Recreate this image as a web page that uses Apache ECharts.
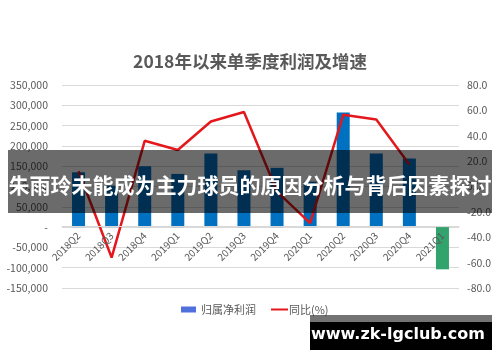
<!DOCTYPE html>
<html>
<head>
<meta charset="utf-8">
<script src="https://cdn.jsdelivr.net/npm/echarts@6/dist/echarts.min.js"></script>
<style>html,body{margin:0;padding:0;background:#fff;}#c{width:500px;height:362px;}</style>
</head>
<body>
<div id="c"></div>
<script>
var categories = ['2018Q2','2018Q3','2018Q4','2019Q1','2019Q2','2019Q3','2019Q4','2020Q1','2020Q2','2020Q3','2020Q4','2021Q1'];
var profit = [135000, 102000, 150000, 131000, 181000, 140000, 146000, 112000, 282000, 181000, 169000, -104000];
var yoy = [12.0, -56.0, 36.0, 28.8, 51.2, 58.7, -4.0, -28.8, 56.5, 52.8, 17.4, null];
var leftTicks = {min: -150000, max: 350000, interval: 50000};
var rightTicks = {min: -80, max: 80, interval: 20};
var titleText = '2018年以来单季度利润及增速';
var seriesNames = ['归属净利润', '同比(%)'];
var bannerText = '朱雨玲未能成为主力球员的原因分析与背后因素探讨';
var siteText = 'www.zk-lgclub.com';

var FONT = '"Noto Sans CJK SC", "Noto Sans", sans-serif';
var chart = echarts.init(document.getElementById('c'), null, {renderer: 'canvas'});
chart.setOption({
  backgroundColor: '#ffffff',
  textStyle: {fontFamily: FONT},
  title: {
    text: titleText, left: 'center', top: 48,
    textStyle: {fontFamily: FONT, fontSize: 17.5, fontWeight: 'bold', color: '#595959'}
  },
  legend: [{
    data: [{name: seriesNames[0], icon: 'rect'}],
    left: 176, top: 299, itemWidth: 15, itemHeight: 6, itemGap: 5,
    textStyle: {fontFamily: FONT, fontSize: 11, color: '#595959'}
  }, {
    data: [{name: seriesNames[1], icon: 'rect'}],
    left: 266, top: 299, itemWidth: 17, itemHeight: 2,
    textStyle: {fontFamily: FONT, fontSize: 11, color: '#595959', padding: [0, 0, 0, -4]}
  }],
  grid: {left: 62, right: 41, top: 85, bottom: 74, containLabel: false},
  xAxis: {
    type: 'category', data: categories, offset: -62, z: 5,
    axisLine: {show: true, onZero: false, lineStyle: {color: '#d9d9d9'}},
    axisTick: {show: false},
    axisLabel: {rotate: 45, margin: 8, fontSize: 10, color: '#595959', fontFamily: FONT, interval: 0}
  },
  yAxis: [{
    type: 'value', min: leftTicks.min, max: leftTicks.max, interval: leftTicks.interval,
    axisLine: {show: false}, axisTick: {show: false},
    splitLine: {show: true, lineStyle: {color: '#d9d9d9'}},
    axisLabel: {fontSize: 10.5, color: '#595959', fontFamily: FONT, margin: 14,
      formatter: function (v) { return v === 0 ? '-' : v.toLocaleString('en-US'); }}
  }, {
    type: 'value', min: rightTicks.min, max: rightTicks.max, interval: rightTicks.interval,
    alignTicks: false,
    axisLine: {show: false}, axisTick: {show: false}, splitLine: {show: false},
    axisLabel: {fontSize: 10.5, color: '#595959', fontFamily: FONT, margin: 8,
      formatter: function (v) { return v.toFixed(1); }}
  }],
  series: [{
    name: seriesNames[0], type: 'bar', data: profit, barWidth: 13, yAxisIndex: 0,
    itemStyle: {color: function (p) { return p.value < 0 ? '#33a36e' : '#0070c0'; }}
  }, {
    name: seriesNames[1], type: 'line', data: yoy, yAxisIndex: 1,
    symbol: 'none', showSymbol: false, connectNulls: false,
    lineStyle: {color: '#e3171c', width: 2.5}, itemStyle: {color: '#e3171c'}
  }],
  graphic: [
    {type: 'rect', z: 100, shape: {x: 8, y: 150, width: 484, height: 63}, style: {fill: 'rgba(0,0,0,0.58)'}},
    {type: 'text', z: 101, x: 250, y: 185, style: {text: bannerText, fill: '#ffffff', font: 'bold 21px ' + FONT, textAlign: 'center', textVerticalAlign: 'middle'}},
    {type: 'rect', z: 100, shape: {x: 310, y: 315, width: 182, height: 7}, style: {fill: 'rgba(0,0,0,0.55)'}},
    {type: 'rect', z: 100, shape: {x: 310, y: 322, width: 182, height: 28}, style: {fill: '#000000'}},
    {type: 'text', z: 101, x: 398, y: 335, style: {text: siteText, fill: '#ffffff', font: 'bold 16px "DejaVu Sans", sans-serif', textAlign: 'center', textVerticalAlign: 'middle'}}
  ]
});
</script>
</body>
</html>
